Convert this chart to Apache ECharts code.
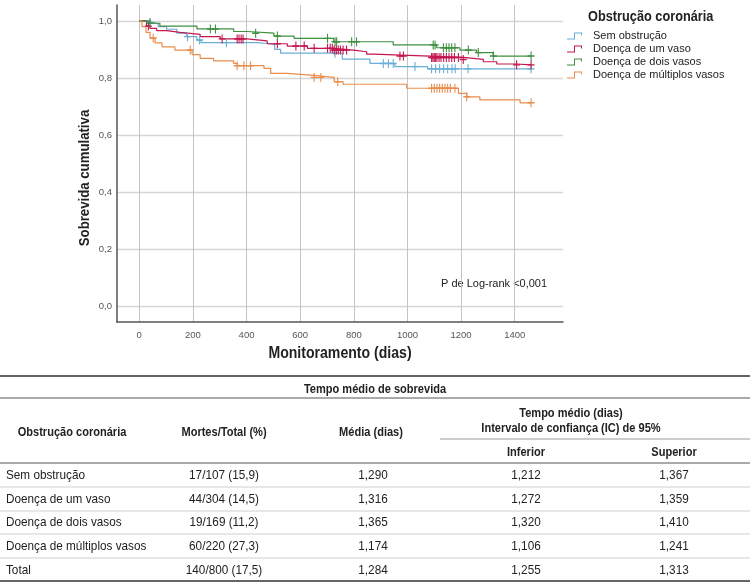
<!DOCTYPE html>
<html><head><meta charset="utf-8">
<script src="https://cdn.jsdelivr.net/npm/echarts@6/dist/echarts.min.js"></script>
<style>html,body{margin:0;padding:0;background:#fff}#c{width:750px;height:582px}</style>
</head><body><div id="c"></div><script>
// ---------- data ----------
const seriesNames = ['Sem obstrução', 'Doença de um vaso', 'Doença de dois vasos', 'Doença de múltiplos vasos'];
const seriesColors = ['#6aaed6', '#c4174f', '#3f8f3f', '#e98d4c'];
const xTicks = [0, 200, 400, 600, 800, 1000, 1200, 1400];
const yTicks = [0, 0.2, 0.4, 0.6, 0.8, 1.0];

// Kaplan-Meier events: [day, survival after the event]
const semObstrucao = [[0,1],[15,0.995],[52,0.99],[71,0.98],[102,0.971],[140,0.957],[177,0.945],[215,0.933],[230,0.924],[440,0.921],[480,0.916],[505,0.9],[527,0.887],[757,0.866],[860,0.851],[953,0.84],[1075,0.832]];
const umVaso = [[0,1],[27,0.982],[40,0.974],[65,0.966],[102,0.96],[152,0.953],[227,0.945],[302,0.937],[402,0.93],[477,0.92],[552,0.912],[627,0.904],[727,0.898],[798,0.892],[848,0.884],[873,0.877],[1084,0.872],[1208,0.865],[1283,0.857],[1333,0.849],[1407,0.846]];
const doisVasos = [[0,1],[40,0.992],[77,0.982],[215,0.972],[352,0.963],[402,0.957],[502,0.947],[577,0.939],[725,0.927],[947,0.916],[1109,0.906],[1196,0.898],[1258,0.889],[1320,0.877]];
const multiplosVasos = [[0,1],[10,0.98],[25,0.96],[40,0.94],[59,0.923],[85,0.909],[133,0.898],[197,0.882],[227,0.869],[277,0.86],[352,0.851],[365,0.843],[465,0.834],[490,0.816],[552,0.809],[652,0.802],[727,0.787],[760,0.778],[997,0.764],[1190,0.746],[1221,0.734],[1270,0.723],[1420,0.713]];

// censored observations (days)
const censSem = [40,180,225,325,730,910,929,947,1028,1090,1105,1120,1135,1150,1166,1178,1226,1461];
const censUm = [34,309,365,372,380,387,515,584,615,652,702,712,720,727,735,742,750,760,773,972,985,1090,1095,1100,1105,1110,1118,1125,1135,1145,1155,1165,1175,1190,1208,1407,1461];
const censDois = [40,265,284,434,515,702,730,736,792,810,1096,1103,1134,1145,1155,1165,1177,1227,1264,1320,1461];
const censMult = [52,190,365,390,415,652,677,740,1090,1100,1110,1120,1130,1140,1150,1160,1177,1221,1461];

const pText = 'P de Log-rank <0,001';
const xName = 'Monitoramento (dias)';
const yName = 'Sobrevida cumulativa';
const legendTitle = 'Obstrução coronária';

// table
const tableTitle = 'Tempo médio de sobrevida';
const headGroup = 'Obstrução coronária';
const headDeaths = 'Mortes/Total (%)';
const headMean = 'Média (dias)';
const headCI1 = 'Tempo médio (dias)';
const headCI2 = 'Intervalo de confiança (IC) de 95%';
const headLow = 'Inferior';
const headUp = 'Superior';
const rowLabels = ['Sem obstrução', 'Doença de um vaso', 'Doença de dois vasos', 'Doença de múltiplos vasos', 'Total'];
const rowDeaths = ['17/107 (15,9)', '44/304 (14,5)', '19/169 (11,2)', '60/220 (27,3)', '140/800 (17,5)'];
const rowMean = ['1,290', '1,316', '1,365', '1,174', '1,284'];
const rowLow = ['1,212', '1,272', '1,320', '1,106', '1,255'];
const rowUp = ['1,367', '1,359', '1,410', '1,241', '1,313'];

// ---------- build ----------
const REG = "'Liberation Sans',Arial,sans-serif";
const events = [semObstrucao, umVaso, doisVasos, multiplosVasos];
const cens = [censSem, censUm, censDois, censMult];

function survAt(ev, t) { let s = 1; for (const [d, v] of ev) { if (d <= t) s = v; } return s; }

const series = [];
events.forEach((ev, i) => {
  const end = Math.max(...cens[i]);
  const data = ev.concat([[end, ev[ev.length - 1][1]]]);
  series.push({ name: seriesNames[i], type: 'line', step: 'end', data, showSymbol: false, silent: true,
    lineStyle: { color: seriesColors[i], width: 1.2 }, itemStyle: { color: seriesColors[i] }, z: 3 });
});
events.forEach((ev, i) => {
  series.push({ name: seriesNames[i], type: 'scatter', silent: true, z: 4,
    data: cens[i].map(t => [t, survAt(ev, t)]),
    symbol: 'path://M3.8,0 H5.2 V3.8 H9 V5.2 H5.2 V9 H3.8 V5.2 H0 V3.8 H3.8 Z', symbolSize: [7, 9],
    itemStyle: { color: seriesColors[i], opacity: 1 } });
});

const stepIcon = 'path://M0,7 H7 V1 H15 V4 H14 V2 H8 V8 H0 Z';

const g = [];
function txt(x, y, s, o, sx, rot) {
  const el = { type: 'text', x, y, silent: true, style: Object.assign({ text: s, fill: '#222', font: '12px ' + REG, align: 'left', verticalAlign: 'middle' }, o || {}) };
  if (sx) el.scaleX = sx;
  if (rot) el.rotation = rot;
  g.push(el);
}
function hl(x1, x2, y, color, w) { g.push({ type: 'line', silent: true, shape: { x1, y1: y, x2, y2: y }, style: { stroke: color, lineWidth: w } }); }

// chart annotations
txt(85, 178, yName, { font: 'bold 15px ' + REG, align: 'center' }, 0.88, Math.PI / 2);
txt(340, 354, xName, { font: 'bold 16px ' + REG, align: 'center' }, 0.88);
txt(588, 17, legendTitle, { font: 'bold 15px ' + REG }, 0.85);
txt(441, 284, pText, { font: '11px ' + REG });

// table
const HB = 'bold 13px ' + REG, HR = '13.5px ' + REG, SB = 0.85, SR = 0.87;
hl(0, 750, 376, '#333', 1.5);
txt(375, 389, tableTitle, { font: HB, align: 'center' }, SB);
hl(0, 750, 398, '#555', 1);
const colX = [224, 373, 526, 674];
txt(72, 432, headGroup, { font: HB, align: 'center' }, SB);
txt(colX[0], 432, headDeaths, { font: HB, align: 'center' }, SB);
txt(371, 432, headMean, { font: HB, align: 'center' }, SB);
txt(571, 413, headCI1, { font: HB, align: 'center' }, SB);
txt(571, 428, headCI2, { font: HB, align: 'center' }, SB);
hl(440, 750, 439, '#999', 1);
txt(colX[2], 452, headLow, { font: HB, align: 'center' }, SB);
txt(colX[3], 452, headUp, { font: HB, align: 'center' }, SB);
hl(0, 750, 463, '#aaa', 2);
const rowY = [475, 499, 522, 546, 570];
rowLabels.forEach((r, i) => {
  const y = rowY[i];
  txt(6, y, r, { font: HR }, SR);
  txt(colX[0], y, rowDeaths[i], { font: HR, align: 'center' }, SR);
  txt(colX[1], y, rowMean[i], { font: HR, align: 'center' }, SR);
  txt(colX[2], y, rowLow[i], { font: HR, align: 'center' }, SR);
  txt(colX[3], y, rowUp[i], { font: HR, align: 'center' }, SR);
  if (i < rowLabels.length - 1) hl(0, 750, y + 12, '#d0d0d0', 1);
});
hl(0, 750, 581, '#333', 1.5);

const chart = echarts.init(document.getElementById('c'), null, { renderer: 'canvas' });
chart.setOption({
  animation: false,
  backgroundColor: '#fff',
  grid: { left: 117, top: 5, right: 187, bottom: 260, containLabel: false },
  xAxis: {
    type: 'value', min: -83, max: 1580,
    axisLine: { show: true, onZero: false, lineStyle: { color: '#555', width: 1.5 } },
    axisTick: { show: false, customValues: xTicks },
    axisLabel: { customValues: xTicks, color: '#555', fontSize: 9.5, fontFamily: REG, margin: 8, formatter: v => String(v) },
    splitLine: { show: true, lineStyle: { color: '#c4c4c4', width: 1 } }
  },
  yAxis: {
    type: 'value', min: -0.056, max: 1.056,
    axisLine: { show: true, onZero: false, lineStyle: { color: '#555', width: 1.5 } },
    axisTick: { show: false, customValues: yTicks },
    axisLabel: { customValues: yTicks, color: '#555', fontSize: 9.5, fontFamily: REG, margin: 5,
      formatter: v => v.toFixed(1).replace('.', ',') },
    splitLine: { show: true, lineStyle: { color: '#d6d6d6', width: 1.4 } }
  },
  legend: {
    orient: 'vertical', left: 567, top: 29.5, padding: 0, itemGap: 0,
    itemWidth: 15, itemHeight: 8, selectedMode: false,
    data: seriesNames.map(n => ({ name: n, icon: stepIcon })),
    textStyle: { fontFamily: REG, fontSize: 11, color: '#222', lineHeight: 13, padding: [0, 0, 0, 6] }
  },
  series,
  graphic: g
});
</script></body></html>
